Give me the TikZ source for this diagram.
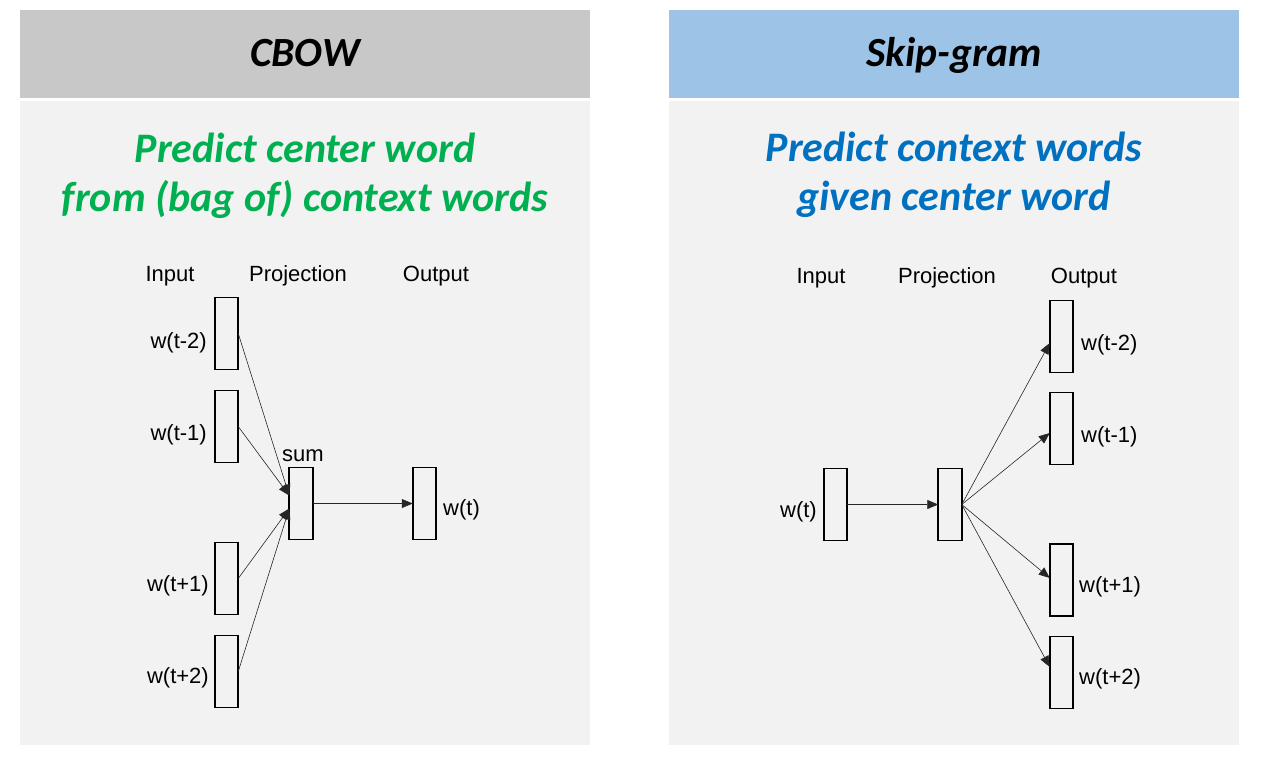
\documentclass[tikz,border=0pt]{standalone}
\usepackage{fontspec}
\setmainfont{Liberation Sans}
\newfontfamily\calfont{Carlito}
\usetikzlibrary{arrows.meta}
\definecolor{hdgray}{HTML}{C8C8C8}
\definecolor{hdblue}{HTML}{9DC3E6}
\definecolor{bodygray}{HTML}{F2F2F2}
\definecolor{txtgreen}{HTML}{00B050}
\definecolor{txtblue}{HTML}{0070C0}
\begin{document}
\begin{tikzpicture}[x=1pt,y=-1pt,
  vec/.style={draw=black, line width=1.8pt, minimum width=23.5pt, minimum height=72pt, inner sep=0pt, outer sep=0pt},
  lbl/.style={font=\fontsize{22}{26}\selectfont, inner sep=0pt},
  arr/.style={-{Triangle[length=11pt,width=9pt]}, line width=0.6pt, draw=black!85},
  hd/.style={font=\calfont\bfseries\itshape\fontsize{41.5}{50}\selectfont, inner sep=0pt, anchor=base},
  sub/.style={font=\calfont\bfseries\itshape\fontsize{42}{50}\selectfont, inner sep=0pt, anchor=base}]
\useasboundingbox (0,0) rectangle (1262,756);
\fill[white] (0,0) rectangle (1262,756);
% panels
\fill[hdgray] (20,10) rectangle (590,98);
\fill[bodygray] (20,101) rectangle (590,745);
\fill[hdblue] (669,10) rectangle (1239,98);
\fill[bodygray] (669,101) rectangle (1239,745);
% headings
\node[hd] (hc) at (305,66) {CBOW};
\node[hd] (hs) at (954,66) {Skip-gram};
\node[sub, text=txtgreen] (g1) at (305,162) {Predict center word};
\node[sub, text=txtgreen] (g2) at (305,211) {from (bag of) context words};
\node[sub, text=txtblue] (b1) at (954,161) {Predict context words};
\node[sub, text=txtblue] (b2) at (954,210) {given center word};
% ---------- CBOW ----------
\node[lbl, anchor=base] (cin) at (170,281) {Input};
\node[lbl, anchor=base] (cpr) at (298,281) {Projection};
\node[lbl, anchor=base] (cout) at (436,281) {Output};
\node[vec] (i1) at (226.5,333.5) {};
\node[vec] (i2) at (226.5,426.5) {};
\node[vec] (i3) at (226.5,578.5) {};
\node[vec] (i4) at (226.5,671.5) {};
\node[vec] (p) at (301,503.5) {};
\node[vec] (o) at (424.5,503.5) {};
\node[lbl, anchor=east] (li1) at (207,343) {w(t-2)};
\node[lbl, anchor=east] (li2) at (207,435) {w(t-1)};
\node[lbl, anchor=east] (li3) at (209,586) {w(t+1)};
\node[lbl, anchor=east] (li4) at (209,678) {w(t+2)};
\node[lbl, anchor=base] (ls) at (303,461) {sum};
\node[lbl, anchor=west] (lo) at (443,510) {w(t)};
\draw[arr] (i1.east) -- ([yshift=8pt]p.west);
\draw[arr] (i2.east) -- ([yshift=8pt]p.west);
\draw[arr] (i3.east) -- ([yshift=-5pt]p.west);
\draw[arr] (i4.east) -- ([yshift=-5pt]p.west);
\draw[arr] (p.east) -- (o.west);
% ---------- Skip-gram ----------
\node[lbl, anchor=base] (sin) at (821,283) {Input};
\node[lbl, anchor=base] (spr) at (947,283) {Projection};
\node[lbl, anchor=base] (sout) at (1084,283) {Output};
\node[vec] (ri) at (835.5,504.5) {};
\node[vec] (rp) at (950,504.5) {};
\node[vec] (o1) at (1061.5,336.5) {};
\node[vec] (o2) at (1061.5,428.5) {};
\node[vec] (o3) at (1061.5,580) {};
\node[vec] (o4) at (1061.5,672.5) {};
\node[lbl, anchor=east] (lri) at (817,512) {w(t)};
\node[lbl, anchor=west] (lo1) at (1081,345) {w(t-2)};
\node[lbl, anchor=west] (lo2) at (1081,437) {w(t-1)};
\node[lbl, anchor=west] (lo3) at (1079,587) {w(t+1)};
\node[lbl, anchor=west] (lo4) at (1079,679) {w(t+2)};
\draw[arr] (ri.east) -- (rp.west);
\draw[arr] (rp.east) -- ([yshift=-6.5pt]o1.west);
\draw[arr] (rp.east) -- ([yshift=-4.5pt]o2.west);
\draw[arr] (rp.east) -- ([yshift=2pt]o3.west);
\draw[arr] (rp.east) -- ([yshift=5.5pt]o4.west);
\end{tikzpicture}
\end{document}
